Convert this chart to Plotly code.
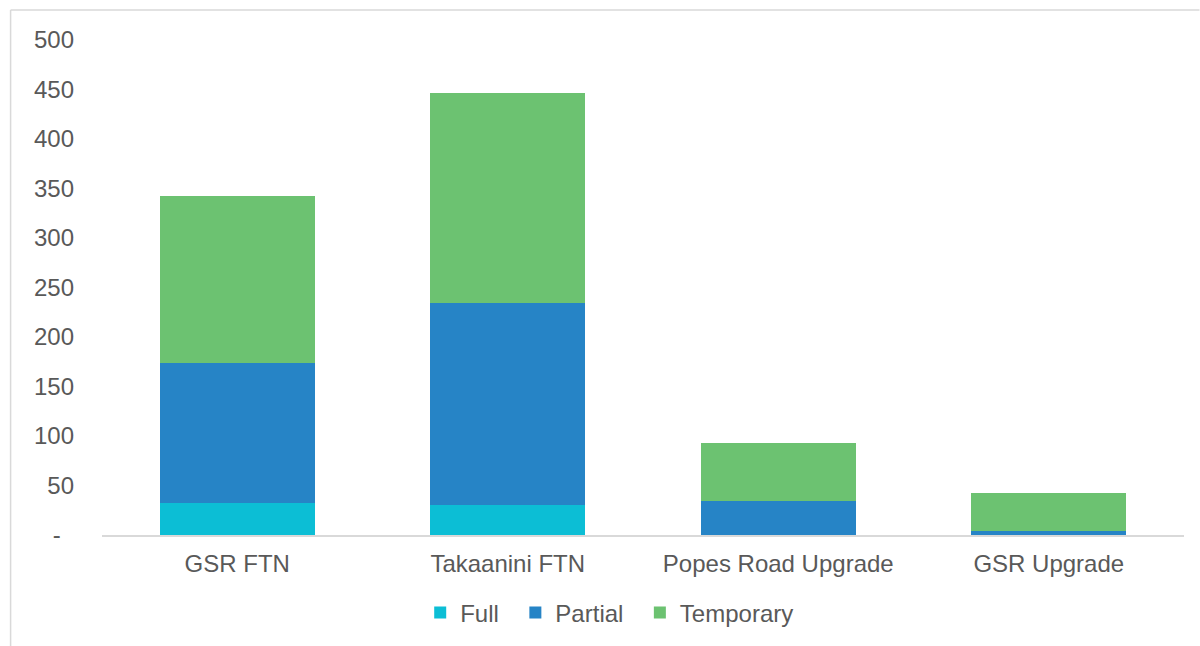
import plotly.graph_objects as go

categories = ["GSR FTN", "Takaanini FTN", "Popes Road Upgrade", "GSR Upgrade"]
full = [32, 30, 0, 0]
partial = [142, 204, 34, 4]
temporary = [168, 212, 59, 38]
y_ticks = [0, 50, 100, 150, 200, 250, 300, 350, 400, 450, 500]
y_ticktext = ["-\u00a0\u00a0", "50", "100", "150", "200", "250", "300", "350", "400", "450", "500"]
series_names = ["Full", "Partial", "Temporary"]
legend_labels = ["Full\u00a0\u2009", "Partial\u00a0\u2009", "Temporary"]

colors = {"Full": "#0cbed5", "Partial": "#2684c6", "Temporary": "#6cc271"}
font = "Liberation Sans, Arial, sans-serif"

fig = go.Figure()
for name, label, vals in zip(series_names, legend_labels, [full, partial, temporary]):
    fig.add_trace(go.Bar(x=categories, y=vals, name=label,
                         hovertemplate=name + ": %{y}<extra></extra>",
                         marker=dict(color=colors[name], line=dict(width=0))))

W, H = 1200, 646
ml, mr, mt, mb = 101.5, 15.5, 40, 111
pw = W - ml - mr
ph = H - mt - mb

def px_x(x):
    return (x - ml) / pw

def px_y(y):
    return (H - mb - y) / ph

fig.update_layout(
    width=W, height=H,
    margin=dict(l=ml, r=mr, t=mt, b=mb, pad=0, autoexpand=False),
    barmode="stack",
    bargap=0.428,
    plot_bgcolor="white", paper_bgcolor="white",
    font=dict(family=font, size=24, color="#595959"),
    showlegend=True,
    legend=dict(orientation="h", x=px_x(420), xanchor="left", y=px_y(613), yanchor="middle",
                font=dict(size=24, color="#595959"), traceorder="normal"),
    xaxis=dict(showgrid=False, showline=True, linecolor="#d9d9d9", linewidth=1.5,
               ticks="", ticklabelstandoff=6, tickfont=dict(size=24, color="#595959")),
    yaxis=dict(range=[0, 500], tickvals=y_ticks, ticktext=y_ticktext, showgrid=False,
               showline=False, zeroline=False, ticks="", ticklabelstandoff=27,
               tickfont=dict(size=24, color="#595959")),
    shapes=[
        dict(type="line", xref="paper", yref="paper", x0=px_x(10), x1=px_x(1200), y0=px_y(10), y1=px_y(10),
             line=dict(color="#d9d9d9", width=1.5)),
        dict(type="line", xref="paper", yref="paper", x0=px_x(10), x1=px_x(10), y0=px_y(10), y1=px_y(646),
             line=dict(color="#d9d9d9", width=1.5)),
    ],
)

fig.write_html("out.html")
